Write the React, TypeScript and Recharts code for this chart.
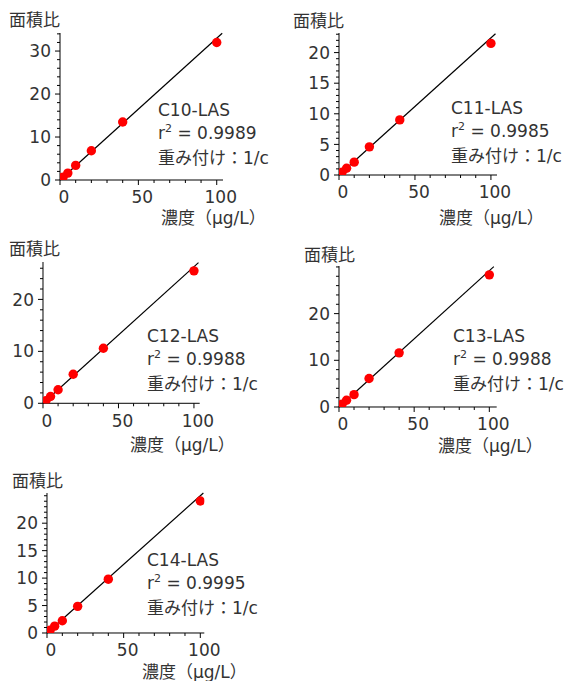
import React from "react";
import { ComposedChart, Scatter, XAxis, YAxis, ReferenceLine } from "recharts";

// 検量線 5 本（C10〜C14-LAS）。濃度は共通、面積比は図から読み取り。
const concentrations = [1, 2, 5, 10, 20, 40, 100];

const compounds = ["C10-LAS", "C11-LAS", "C12-LAS", "C13-LAS", "C14-LAS"];
const r2Labels = ["0.9989", "0.9985", "0.9988", "0.9988", "0.9995"];

const c10Ratios = [0.33, 0.68, 1.6, 3.4, 6.8, 13.5, 32.0];
const c11Ratios = [0.22, 0.45, 1.1, 2.1, 4.6, 9.0, 21.5];
const c12Ratios = [0.26, 0.52, 1.3, 2.6, 5.6, 10.6, 25.5];
const c13Ratios = [0.3, 0.58, 1.45, 2.65, 6.1, 11.6, 28.3];
const c14Ratios = [0.25, 0.5, 1.25, 2.24, 4.85, 9.8, 24.05];
const ratios = [c10Ratios, c11Ratios, c12Ratios, c13Ratios, c14Ratios];

// 重み付け 1/c の回帰直線（原点通過）
const fitSlopes = [0.33, 0.224, 0.263, 0.292, 0.25];
const fitEndX = [103.5, 103, 103, 103, 102];

const xMax = [104, 104, 103.8, 104.9, 102.6];
const yMax = [34.2, 23.2, 27.2, 30.2, 25.5];

const xMajorTicks = [0, 50, 100];
const xTicks = [0, 10, 20, 30, 40, 50, 60, 70, 80, 90, 100];
const yMajorTicks = [
  [0, 10, 20, 30],
  [0, 5, 10, 15, 20],
  [0, 10, 20],
  [0, 10, 20],
  [0, 5, 10, 15, 20],
];
const yTicks = [
  [0, 2, 4, 6, 8, 10, 12, 14, 16, 18, 20, 22, 24, 26, 28, 30, 32, 34],
  [0, 1, 2, 3, 4, 5, 6, 7, 8, 9, 10, 11, 12, 13, 14, 15, 16, 17, 18, 19, 20, 21, 22, 23],
  [0, 2, 4, 6, 8, 10, 12, 14, 16, 18, 20, 22, 24, 26],
  [0, 2, 4, 6, 8, 10, 12, 14, 16, 18, 20, 22, 24, 26, 28, 30],
  [0, 1, 2, 3, 4, 5, 6, 7, 8, 9, 10, 11, 12, 13, 14, 15, 16, 17, 18, 19, 20, 21, 22, 23, 24, 25],
];

const yTitle = "面積比";
const xTitle = "濃度（µg/L）";
const weightLabel = "重み付け：1/c";

// ページ上の配置（px）。yt / xt はタイトルの左端と文字中心の y
const layouts = [
  { x: 60, top: 33, bottom: 180, right: 223, yt: [9, 20], note: [158, 99], xt: [161, 218] },
  { x: 339, top: 33, bottom: 175, right: 497, yt: [293, 21], note: [451, 97], xt: [439, 218] },
  { x: 43.3, top: 262, bottom: 403.3, right: 200, yt: [9, 249], note: [147, 325], xt: [130, 445] },
  { x: 339, top: 265.7, bottom: 406.7, right: 496.7, yt: [304, 255], note: [453, 325], xt: [438, 446] },
  { x: 46.7, top: 493.3, bottom: 633.3, right: 204, yt: [12, 481], note: [147, 549], xt: [142, 672] },
];

const FONT = "'DejaVu Sans', 'Noto Sans CJK JP', sans-serif";
const SIZE = 17;
const TEXT = "#333";
const TICK_SIZE = 5;
const Y_MARGIN = 4;
const X_MARGIN = 6;

function YTick(props: any, majors: number[]) {
  const { x, y, payload } = props;
  const ax = x + Y_MARGIN + TICK_SIZE;
  const major = majors.includes(payload.value);
  return (
    <g>
      <line x1={ax - (major ? 5 : 3)} x2={ax} y1={y} y2={y} stroke="#000" />
      {major && (
        <text x={x} y={y} dy="0.36em" textAnchor="end" fill={TEXT} fontSize={SIZE} fontFamily={FONT}>
          {payload.value}
        </text>
      )}
    </g>
  );
}

function XTick(props: any) {
  const { x, y, payload } = props;
  const ay = y - X_MARGIN - TICK_SIZE;
  const major = xMajorTicks.includes(payload.value);
  return (
    <g>
      <line x1={x} x2={x} y1={ay} y2={ay + (major ? 5 : 3)} stroke="#000" />
      {major && (
        <text x={x + 4} y={y} dy="0.72em" textAnchor="middle" fill={TEXT} fontSize={SIZE} fontFamily={FONT}>
          {payload.value}
        </text>
      )}
    </g>
  );
}

function Panel({ i }: { i: number }) {
  const L = layouts[i];
  const yW = 50;
  const mt = 6;
  const mr = 34;
  const xh = 30;
  const w = yW + (L.right - L.x) + mr;
  const h = mt + (L.bottom - L.top) + xh;
  const data = concentrations.map((c, k) => ({ x: c, y: ratios[i][k] }));
  const endX = fitEndX[i];
  const text: React.CSSProperties = {
    position: "absolute",
    fontFamily: FONT,
    fontSize: SIZE,
    color: TEXT,
    whiteSpace: "nowrap",
    lineHeight: `${SIZE}px`,
  };

  return (
    <>
      <div style={{ position: "absolute", left: L.x - yW, top: L.top - mt }}>
        <ComposedChart width={w} height={h} margin={{ top: mt, right: mr, bottom: 0, left: 0 }}>
          <XAxis
            type="number"
            dataKey="x"
            domain={[0, xMax[i]]}
            allowDataOverflow
            ticks={xTicks}
            interval={0}
            height={xh}
            tickSize={TICK_SIZE}
            tickMargin={X_MARGIN}
            tickLine={false}
            axisLine={{ stroke: "#000" }}
            tick={XTick}
          />
          <YAxis
            type="number"
            dataKey="y"
            domain={[0, yMax[i]]}
            allowDataOverflow
            ticks={yTicks[i]}
            interval={0}
            width={yW}
            tickSize={TICK_SIZE}
            tickMargin={Y_MARGIN}
            tickLine={false}
            axisLine={{ stroke: "#000" }}
            tick={(p: any) => YTick(p, yMajorTicks[i])}
          />
          <Scatter
            data={data}
            fill="#ff0000"
            isAnimationActive={false}
            shape={(p: any) => <circle cx={p.cx} cy={p.cy} r={4.7} fill="#ff0000" />}
          />
          <ReferenceLine
            segment={[
              { x: 0, y: 0 },
              { x: endX, y: fitSlopes[i] * endX },
            ]}
            stroke="#000"
            strokeWidth={1.2}
            ifOverflow="visible"
          />
        </ComposedChart>
      </div>
      <div style={{ ...text, left: L.yt[0], top: L.yt[1] - SIZE / 2 }}>{yTitle}</div>
      <div style={{ ...text, left: L.note[0], top: L.note[1], lineHeight: "22.5px" }}>
        <div>{compounds[i]}</div>
        <div>
          r<span style={{ fontSize: 11, position: "relative", top: -7 }}>2</span> = {r2Labels[i]}
        </div>
        <div>{weightLabel}</div>
      </div>
      <div style={{ ...text, left: L.xt[0], top: L.xt[1] - SIZE / 2 }}>{xTitle}</div>
    </>
  );
}

export default function App() {
  return (
    <div style={{ position: "absolute", left: 0, top: 0, width: 573, height: 681, background: "#fff" }}>
      {compounds.map((_, i) => (
        <Panel key={i} i={i} />
      ))}
    </div>
  );
}
